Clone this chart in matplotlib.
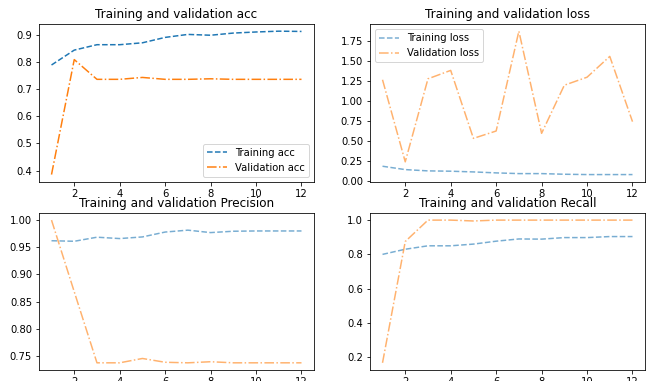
import matplotlib
matplotlib.use("Agg")
import matplotlib.pyplot as plt
from matplotlib.ticker import MultipleLocator

epochs = list(range(1, 13))

acc = [0.790, 0.845, 0.865, 0.865, 0.872, 0.892, 0.903, 0.900, 0.908, 0.912, 0.915, 0.914]
val_acc = [0.385, 0.810, 0.737, 0.737, 0.744, 0.737, 0.737, 0.739, 0.737, 0.737, 0.737, 0.737]

loss = [0.188, 0.146, 0.130, 0.126, 0.117, 0.105, 0.096, 0.096, 0.088, 0.084, 0.084, 0.084]
val_loss = [1.268, 0.243, 1.280, 1.385, 0.536, 0.628, 1.875, 0.599, 1.200, 1.300, 1.560, 0.745]

precision = [0.962, 0.961, 0.9685, 0.966, 0.969, 0.978, 0.9815, 0.977, 0.9795, 0.980, 0.980, 0.980]
val_precision = [1.000, 0.868, 0.737, 0.737, 0.745, 0.738, 0.737, 0.739, 0.737, 0.737, 0.737, 0.737]

recall = [0.800, 0.830, 0.850, 0.850, 0.860, 0.877, 0.890, 0.889, 0.898, 0.898, 0.904, 0.904]
val_recall = [0.167, 0.875, 1.000, 1.000, 0.995, 1.000, 1.000, 1.000, 1.000, 1.000, 1.000, 1.000]

fig = plt.figure(figsize=(647 / 72, 381 / 72), dpi=72)

w, h = 0.425, 0.414
ax1 = fig.add_axes([0.0603, 0.523, w, h])
ax2 = fig.add_axes([0.5719, 0.523, w, h])
ax3 = fig.add_axes([0.0603, 0.029, w, 0.412])
ax4 = fig.add_axes([0.5719, 0.029, w, 0.412])

# accuracy
ax1.plot(epochs, acc, "--", color="C0", label="Training acc")
ax1.plot(epochs, val_acc, "-.", color="C1", label="Validation acc")
ax1.set_title("Training and validation acc")
ax1.legend(loc="lower right")

# loss
ax2.plot(epochs, loss, "--", color="C0", alpha=0.6, label="Training loss")
ax2.plot(epochs, val_loss, "-.", color="C1", alpha=0.6, label="Validation loss")
ax2.set_title("Training and validation loss")
ax2.yaxis.set_major_locator(MultipleLocator(0.25))
ax2.legend(loc="upper left")

# precision
ax3.plot(epochs, precision, "--", color="C0", alpha=0.6)
ax3.plot(epochs, val_precision, "-.", color="C1", alpha=0.6)
ax3.set_title("Training and validation Precision")

# recall
ax4.plot(epochs, recall, "--", color="C0", alpha=0.6)
ax4.plot(epochs, val_recall, "-.", color="C1", alpha=0.6)
ax4.set_title("Training and validation Recall")

for ax in (ax1, ax2, ax3, ax4):
    ax.set_xticks([2, 4, 6, 8, 10, 12])

fig.savefig("out.png", dpi=72)
